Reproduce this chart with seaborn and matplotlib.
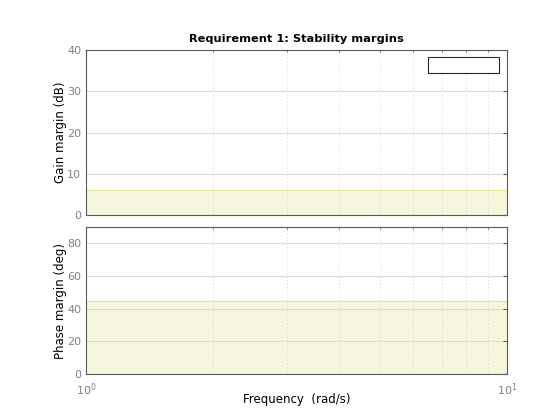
import numpy as np
import matplotlib
matplotlib.use("Agg")
import matplotlib.pyplot as plt
import seaborn as sns
from matplotlib.patches import Rectangle
from matplotlib.ticker import LogLocator, NullFormatter

# requirement data
freq_range = [1, 10]
gain_bound = [6, 6]      # dB
phase_bound = [45, 45]   # deg
gain_ylim = [0, 40]
phase_ylim = [0, 90]
gain_ticks = [0, 10, 20, 30, 40]
phase_ticks = [0, 20, 40, 60, 80]

sns.set_style("white")
plt.rcParams['font.family'] = ['DejaVu Sans']
plt.rcParams['font.size'] = 8

fill_c = '#f6f6dc'
edge_c = '#e6e68a'
tick_c = '#808080'
spine_c = '#5a5a5a'

fig = plt.figure(figsize=(5.6, 4.2), dpi=100)
ax1 = fig.add_axes([0.1536, 0.488, 0.7514, 0.393])
ax2 = fig.add_axes([0.1536, 0.1095, 0.7514, 0.35])

def style(ax, ylim, yticks):
    ax.set_xscale('log')
    ax.set_xlim(freq_range)
    ax.set_ylim(ylim)
    ax.set_yticks(yticks)
    ax.xaxis.set_minor_locator(LogLocator(base=10, subs=np.arange(2, 10)))
    ax.xaxis.set_minor_formatter(NullFormatter())
    ax.grid(True, axis='y', which='major', color='#dadada', lw=0.8, ls='-')
    ax.grid(True, axis='x', which='both', color='#c8c8c8', lw=0.6, ls=(0, (1, 3)))
    ax.set_axisbelow(True)
    ax.tick_params(which='both', direction='in', top=True, right=True,
                   colors=spine_c, labelcolor=tick_c, labelsize=8)
    ax.tick_params(which='major', length=3)
    ax.tick_params(which='minor', length=1.5)
    ax.tick_params(axis='x', which='major', pad=5)
    for s in ax.spines.values():
        s.set_color(spine_c)
        s.set_linewidth(0.8)

# gain margin
ax1.fill_between(freq_range, gain_ylim[0], gain_bound, color=fill_c, lw=0, zorder=0.2)
sns.lineplot(x=freq_range, y=gain_bound, ax=ax1, color=edge_c, lw=0.8, zorder=2)
style(ax1, gain_ylim, gain_ticks)
ax1.set_xticklabels([])
ax1.set_ylabel('Gain margin (dB)', fontsize=8.5, color='black', labelpad=0)
ax1.set_title('Requirement 1: Stability margins', fontsize=8.2, fontweight='bold',
              color='black', pad=6)
ax1.add_patch(Rectangle((0.813, 0.862), 0.168, 0.098, transform=ax1.transAxes,
                        fill=True, facecolor='white', edgecolor='#262626', lw=0.8, zorder=5))

# phase margin
ax2.fill_between(freq_range, phase_ylim[0], phase_bound, color=fill_c, lw=0, zorder=0.2)
sns.lineplot(x=freq_range, y=phase_bound, ax=ax2, color=edge_c, lw=0.8, zorder=2)
style(ax2, phase_ylim, phase_ticks)
ax2.set_ylabel('Phase margin (deg)', fontsize=8.5, color='black', labelpad=0)
ax2.set_xlabel('Frequency  (rad/s)', fontsize=8.5, color='black', labelpad=-3)

fig.savefig('out.png', dpi=100, facecolor='white')
